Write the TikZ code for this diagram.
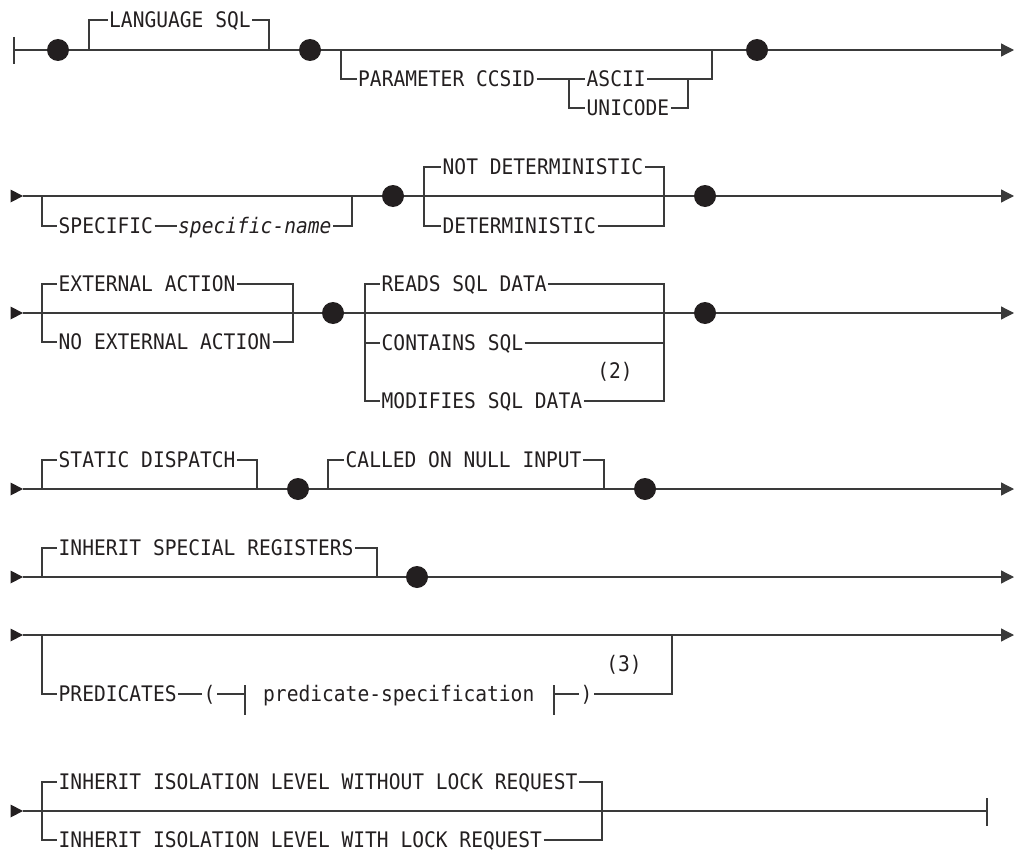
\documentclass[tikz,border=0pt]{standalone}
\usepackage{fontspec}
\newfontfamily\rrfont{DejaVu Sans Mono}[FakeStretch=0.915]
\usetikzlibrary{arrows.meta}
\definecolor{ink}{HTML}{231F20}
\definecolor{rulec}{HTML}{3A3A3A}
\begin{document}
\begin{tikzpicture}[x=1pt,y=-1pt,
  ln/.style={draw=rulec,line width=1.25pt},
  arr/.style={ln,-{Triangle[length=13pt,width=13pt]}},
  lbl/.style={inner xsep=1.5pt,inner ysep=0pt,text height=15.5pt,text depth=0pt,anchor=west,
    font=\rrfont\fontsize{21.4}{23}\selectfont,text=ink},
  note/.style={inner sep=0pt,font=\rrfont\fontsize{21.4}{23}\selectfont,text=ink},
  dot/.style={circle,fill=ink,minimum size=22pt,inner sep=0pt},
  startarr/.pic={\fill[ink] (-12.5,-6.5) -- (0,0) -- (-12.5,6.5) -- cycle;}
]
\useasboundingbox (0,0) rectangle (1015,851);

% ---------- Row 1 (y=50)
\draw[ln] (14,37) -- (14,64);
\coordinate (s1) at (14,50);
\node[dot] (d1) at (58,50) {};
\node[dot] (d2) at (310,50) {};
\node[dot] (d3) at (757,50) {};
\coordinate (e1) at (1014,50);
\draw[ln] (s1) -- (d1);
\draw[ln] (d1) -- (d2);
\draw[ln] (d2) -- (d3);
\draw[arr] (d3) -- (e1);
\node[lbl] (lang) at (107.5,20) {LANGUAGE SQL};
\coordinate (la) at (89,50);
\coordinate (lb) at (269,50);
\draw[ln] (la) |- (lang.west);
\draw[ln] (lang.east) -| (lb);
\node[lbl] (pcc) at (356.5,79) {PARAMETER CCSID};
\node[lbl] (asc) at (585,79) {ASCII};
\node[lbl] (uni) at (585,108) {UNICODE};
\coordinate (pa) at (341,50);
\coordinate (pb) at (712,50);
\coordinate (pj) at (569,79);
\coordinate (pk) at (688,79);
\draw[ln] (pa) |- (pcc.west);
\draw[ln] (pcc.east) -- (asc.west);
\draw[ln] (pj) |- (uni.west);
\draw[ln] (asc.east) -- (pk) -| (pb);
\draw[ln] (uni.east) -| (pk);

% ---------- Row 2 (y=196)
\pic at (23,196) {startarr};
\coordinate (s2) at (23,196);
\node[dot] (d4) at (393,196) {};
\node[dot] (d5) at (705,196) {};
\coordinate (e2) at (1014,196);
\draw[ln] (s2) -- (d4);
\draw[ln] (d4) -- (d5);
\draw[arr] (d5) -- (e2);
\node[lbl] (spec) at (57,226) {SPECIFIC};
\node[lbl] (sname) at (176.5,226) {\itshape specific-name};
\coordinate (sa) at (42,196);
\coordinate (sb) at (352,196);
\draw[ln] (sa) |- (spec.west);
\draw[ln] (spec.east) -- (sname.west);
\draw[ln] (sname.east) -| (sb);
\node[lbl] (ndet) at (441,167) {NOT DETERMINISTIC};
\node[lbl] (det) at (441,226) {DETERMINISTIC};
\coordinate (na) at (424,196);
\coordinate (nb) at (664,196);
\draw[ln] (na) |- (ndet.west);
\draw[ln] (na) |- (det.west);
\draw[ln] (ndet.east) -| (nb);
\draw[ln] (det.east) -| (nb);

% ---------- Row 3 (y=313)
\pic at (23,313) {startarr};
\coordinate (s3) at (23,313);
\node[dot] (d6) at (333,313) {};
\node[dot] (d7) at (705,313) {};
\coordinate (e3) at (1014,313);
\draw[ln] (s3) -- (d6);
\draw[ln] (d6) -- (d7);
\draw[arr] (d7) -- (e3);
\node[lbl] (ext) at (57,284) {EXTERNAL ACTION};
\node[lbl] (noext) at (57,342) {NO EXTERNAL ACTION};
\coordinate (xa) at (42,313);
\coordinate (xb) at (293,313);
\draw[ln] (xa) |- (ext.west);
\draw[ln] (xa) |- (noext.west);
\draw[ln] (ext.east) -| (xb);
\draw[ln] (noext.east) -| (xb);
\node[lbl] (reads) at (380,284) {READS SQL DATA};
\node[lbl] (cont) at (380,343) {CONTAINS SQL};
\node[lbl] (modi) at (380,401) {MODIFIES SQL DATA};
\node[note] (n2) at (615,372) {(2)};
\coordinate (ra) at (365,313);
\coordinate (rb) at (664,313);
\draw[ln] (ra) |- (reads.west);
\draw[ln] (ra) |- (modi.west);
\draw[ln] (ra |- cont.west) -- (cont.west);
\draw[ln] (reads.east) -| (rb);
\draw[ln] (modi.east) -| (rb);
\draw[ln] (cont.east) -- (rb |- cont.east);

% ---------- Row 4 (y=489)
\pic at (23,489) {startarr};
\coordinate (s4) at (23,489);
\node[dot] (d8) at (298,489) {};
\node[dot] (d9) at (645,489) {};
\coordinate (e4) at (1014,489);
\draw[ln] (s4) -- (d8);
\draw[ln] (d8) -- (d9);
\draw[arr] (d9) -- (e4);
\node[lbl] (stat) at (57,460) {STATIC DISPATCH};
\coordinate (ta) at (42,489);
\coordinate (tb) at (257,489);
\draw[ln] (ta) |- (stat.west);
\draw[ln] (stat.east) -| (tb);
\node[lbl] (call) at (344,460) {CALLED ON NULL INPUT};
\coordinate (ca) at (328,489);
\coordinate (cb) at (604,489);
\draw[ln] (ca) |- (call.west);
\draw[ln] (call.east) -| (cb);

% ---------- Row 5 (y=577)
\pic at (23,577) {startarr};
\coordinate (s5) at (23,577);
\node[dot] (d10) at (417,577) {};
\coordinate (e5) at (1014,577);
\draw[ln] (s5) -- (d10);
\draw[arr] (d10) -- (e5);
\node[lbl] (isr) at (57,548) {INHERIT SPECIAL REGISTERS};
\coordinate (ia) at (42,577);
\coordinate (ib) at (377,577);
\draw[ln] (ia) |- (isr.west);
\draw[ln] (isr.east) -| (ib);

% ---------- Row 6 (y=635)
\pic at (23,635) {startarr};
\coordinate (s6) at (23,635);
\coordinate (e6) at (1014,635);
\draw[arr] (s6) -- (e6);
\node[lbl] (pred) at (57,694) {PREDICATES};
\node[lbl] (lp) at (202,694) {(};
\node[lbl] (pspec) at (261.5,694) {predicate-specification};
\node[lbl] (rp) at (579,694) {)};
\node[note] (n3) at (624,665) {(3)};
\coordinate (qa) at (42,635);
\coordinate (qb) at (672,635);
\coordinate (bar1) at (245,694);
\coordinate (bar2) at (554,694);
\draw[ln] (245,685) -- (245,715);
\draw[ln] (554,685) -- (554,715);
\draw[ln] (qa) |- (pred.west);
\draw[ln] (pred.east) -- (lp.west);
\draw[ln] (lp.east) -- (bar1);
\draw[ln] (bar2) -- (rp.west);
\draw[ln] (rp.east) -| (qb);

% ---------- Row 7 (y=811)
\pic at (23,811) {startarr};
\coordinate (s7) at (23,811);
\coordinate (e7) at (987,811);
\draw[ln] (s7) -- (e7);
\draw[ln] (987,798) -- (987,826);
\node[lbl] (wo) at (57,782) {INHERIT ISOLATION LEVEL WITHOUT LOCK REQUEST};
\node[lbl] (wi) at (57,840) {INHERIT ISOLATION LEVEL WITH LOCK REQUEST};
\coordinate (wa) at (42,811);
\coordinate (wb) at (602,811);
\draw[ln] (wa) |- (wo.west);
\draw[ln] (wa) |- (wi.west);
\draw[ln] (wo.east) -| (wb);
\draw[ln] (wi.east) -| (wb);
\end{tikzpicture}
\end{document}
